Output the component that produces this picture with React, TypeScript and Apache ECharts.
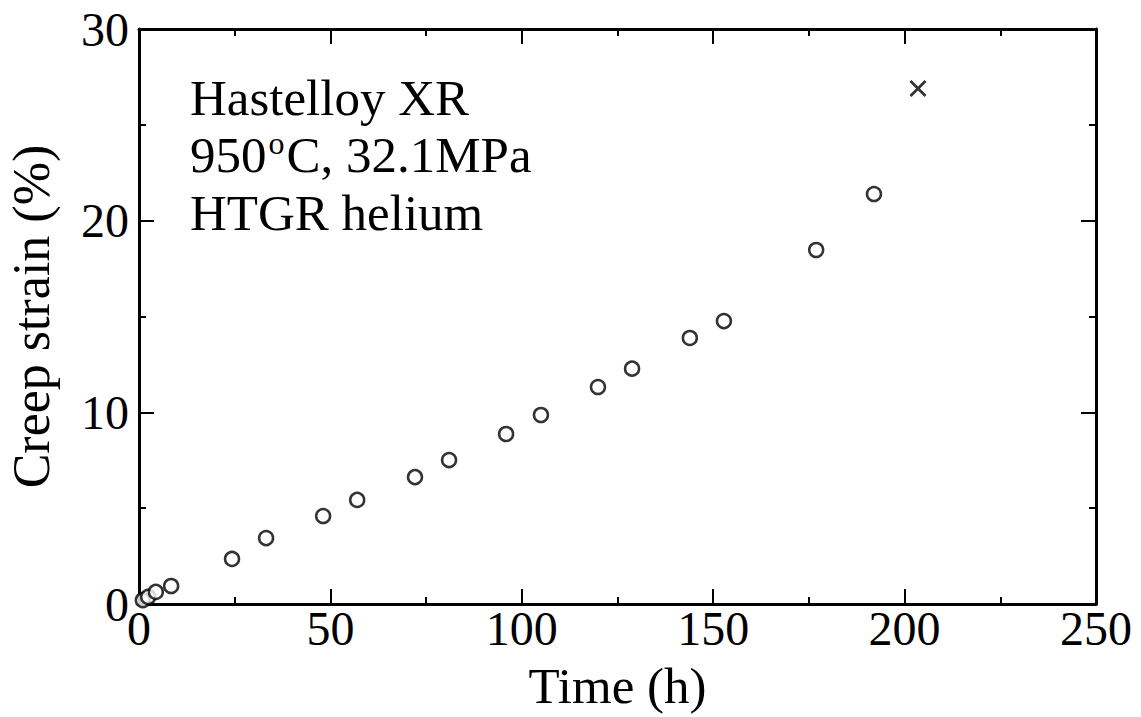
import React, { useEffect, useRef } from "react";
import * as echarts from "echarts";

const timeH = [1.0, 2.4, 4.4, 8.4, 24.3, 33.2, 48.1, 57.0, 72.1, 81.0, 95.9, 105.0, 119.9, 128.8, 143.9, 152.8, 176.9, 192.0];
const strainPct = [0.2, 0.37, 0.63, 0.94, 2.35, 3.44, 4.59, 5.43, 6.62, 7.51, 8.87, 9.86, 11.32, 12.28, 13.88, 14.76, 18.47, 21.39];
const ruptureTime = [203.5];
const ruptureStrain = [26.9];
const xTicks = { min: 0, max: 250, interval: 50 };
const yTicks = { min: 0, max: 30, interval: 10 };
const annotationLine1 = "Hastelloy XR";
const annotationLine2 = ["950", "o", "C, 32.1MPa"];
const annotationLine3 = "HTGR helium";

const FONT = '"Liberation Serif", "Times New Roman", Times, serif';

export default function App() {
  const ref = useRef<HTMLDivElement>(null);
  useEffect(() => {
    document.body.style.margin = "0";
    if (!ref.current) return;
    const chart = echarts.init(ref.current, null, { renderer: "svg" });
    const axisCommon = {
      axisLine: { show: true, onZero: false, lineStyle: { color: "#000", width: 3 } },
      axisTick: { show: true, inside: true, length: 15, lineStyle: { color: "#000", width: 2 } },
      minorTick: { show: true, splitNumber: 2, length: 7, lineStyle: { color: "#000", width: 2 } },
      splitLine: { show: false },
    };
    const circles = timeH.map((t, i) => [t, strainPct[i]]);
    const rupture = ruptureTime.map((t, i) => [t, ruptureStrain[i]]);
    const textStyle = (text: string, size: number) => ({ text, fontFamily: FONT, fontSize: size, fill: "#000" });
    const baseTop = 72;
    const step = 57;
    const mainSize = 51;
    const digitW = mainSize * 0.5 * 3; // width of "950" in a Times-metric font
    chart.setOption({
      animation: false,
      backgroundColor: "#fff",
      grid: { left: 139, top: 29, right: 45, bottom: 113, containLabel: false, outerBoundsMode: "none" },
      xAxis: [
        {
          type: "value",
          position: "bottom",
          ...xTicks,
          ...axisCommon,
          axisLabel: { color: "#000", fontFamily: FONT, fontSize: 48, margin: 0 },
          name: "Time (h)",
          nameLocation: "middle",
          nameGap: 57,
          nameTextStyle: { color: "#000", fontFamily: FONT, fontSize: 51, lineHeight: 50 },
        },
        {
          type: "value",
          position: "top",
          ...xTicks,
          ...axisCommon,
          axisLabel: { show: false },
        },
      ],
      yAxis: [
        {
          type: "value",
          position: "left",
          ...yTicks,
          ...axisCommon,
          axisLabel: { color: "#000", fontFamily: FONT, fontSize: 48, margin: 10 },
          name: "Creep strain (%)",
          nameLocation: "middle",
          nameGap: 82,
          nameTextStyle: { color: "#000", fontFamily: FONT, fontSize: 52 },
        },
        {
          type: "value",
          position: "right",
          ...yTicks,
          ...axisCommon,
          axisLabel: { show: false },
        },
      ],
      series: [
        {
          type: "scatter",
          data: circles,
          symbol: "circle",
          symbolSize: 14,
          itemStyle: { color: "#fff", borderColor: "#000", borderWidth: 2.5 },
        },
        {
          type: "scatter",
          data: rupture,
          symbol: "path://M0,0L10,10M10,0L0,10",
          symbolSize: 15,
          itemStyle: { color: "none", borderColor: "#000", borderWidth: 2.8 },
        },
      ],
      graphic: [
        { type: "text", left: 190, top: baseTop, style: textStyle(annotationLine1, mainSize) },
        { type: "text", left: 190, top: baseTop + step, style: textStyle(annotationLine2[0], mainSize) },
        { type: "text", left: 190 + digitW + 2, top: baseTop + step - 2, style: textStyle(annotationLine2[1], 32) },
        { type: "text", left: 190 + digitW + 20, top: baseTop + step, style: textStyle(annotationLine2[2], mainSize) },
        { type: "text", left: 190, top: baseTop + 2 * step + 1, style: textStyle(annotationLine3, mainSize) },
      ],
    });
    return () => chart.dispose();
  }, []);
  return <div ref={ref} style={{ position: "fixed", left: 0, top: 0, width: 1141, height: 717 }} />;
}
